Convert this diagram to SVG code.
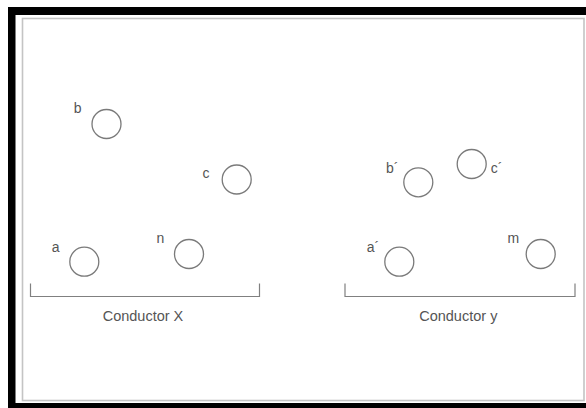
<svg xmlns="http://www.w3.org/2000/svg" width="586" height="408" viewBox="0 0 586 408">
<style>
.w{fill:none;stroke:#7a7a7a;stroke-width:1.3}
.t{font-family:"Liberation Sans",Arial,sans-serif;font-size:14px;fill:#555}
.br{fill:none;stroke:#808080;stroke-width:1.2}
</style>
<rect x="0" y="0" width="586" height="408" fill="#fff"/>
<path d="M8 7H586V15H15.5V403H586V408H8Z" fill="#000"/>
<rect x="22.5" y="18.5" width="561.5" height="382" fill="#fff" stroke="#c4c4c4" stroke-width="1.6"/>
<g id="node-b"><circle class="w" cx="106.5" cy="124" r="14.5"/><text class="t" x="77.7" y="113.3" text-anchor="middle">b</text></g>
<g id="node-c"><circle class="w" cx="236.7" cy="179.5" r="14.5"/><text class="t" x="206" y="178" text-anchor="middle">c</text></g>
<g id="node-a"><circle class="w" cx="84.3" cy="261.7" r="14.5"/><text class="t" x="55.7" y="251.7" text-anchor="middle">a</text></g>
<g id="node-n"><circle class="w" cx="189" cy="254" r="14.5"/><text class="t" x="160.3" y="243.3" text-anchor="middle">n</text></g>
<g id="node-b2"><circle class="w" cx="418.3" cy="182.3" r="14.5"/><text class="t" x="386" y="172.7">b´</text></g>
<g id="node-c2"><circle class="w" cx="471.7" cy="164" r="14.5"/><text class="t" x="490.7" y="172.7">c´</text></g>
<g id="node-a2"><circle class="w" cx="399.3" cy="261.7" r="14.5"/><text class="t" x="366.7" y="251.7">a´</text></g>
<g id="node-m"><circle class="w" cx="540.7" cy="254" r="14.5"/><text class="t" x="513.3" y="243.3" text-anchor="middle">m</text></g>
<g id="connectors">
<path class="br" d="M30.5 283.5V296.5H259.5V283.5"/>
<path class="br" d="M345 283.5V296.5H575V283.5"/>
</g>
<g id="group-x"><text class="t" style="font-size:14.5px" x="143" y="320.7" text-anchor="middle">Conductor X</text></g>
<g id="group-y"><text class="t" style="font-size:14.5px" x="458.3" y="320.7" text-anchor="middle">Conductor y</text></g>
</svg>
